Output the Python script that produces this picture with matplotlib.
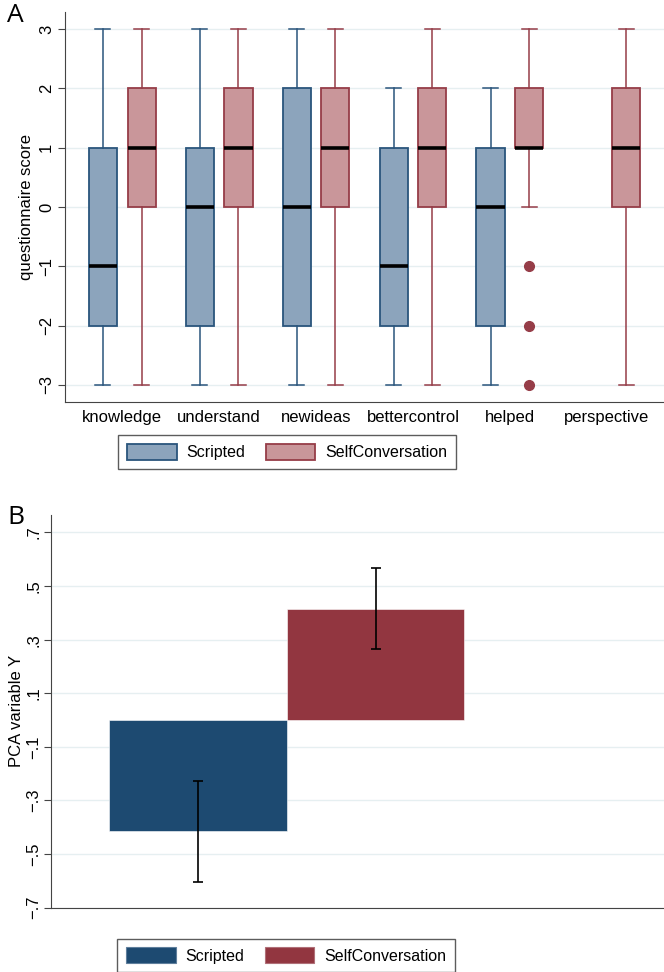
import matplotlib.pyplot as plt
from matplotlib.patches import Patch
from matplotlib.ticker import FixedLocator, FixedFormatter

plt.rcParams['font.family'] = ['Liberation Sans', 'DejaVu Sans']

# panel A: questionnaire items, five-number summaries per group
items = ["knowledge", "understand", "newideas", "bettercontrol", "helped", "perspective"]
# (whislo, q1, med, q3, whishi) ; None = no data
scripted_stats = [(-3, -2, -1, 1, 3), (-3, -2, 0, 1, 3), (-3, -2, 0, 2, 3),
                  (-3, -2, -1, 1, 2), (-3, -2, 0, 1, 2), None]
selfconv_stats = [(-3, 0, 1, 2, 3), (-3, 0, 1, 2, 3), (-3, 0, 1, 2, 3),
                  (-3, 0, 1, 2, 3), (0, 1, 1, 2, 3), (-3, 0, 1, 2, 3)]
selfconv_outliers = [[], [], [], [], [-1, -2, -3], []]
a_ticks = [-3, -2, -1, 0, 1, 2, 3]

# panel B: PCA variable means and CI
groups = ["Scripted", "SelfConversation"]
pca_mean = [-0.415, 0.416]
pca_low = [-0.604, 0.264]
pca_high = [-0.227, 0.567]
b_ticks = [-0.7, -0.5, -0.3, -0.1, 0.1, 0.3, 0.5, 0.7]
b_labels = ["\u2212.7", "\u2212.5", "\u2212.3", "\u2212.1", ".1", ".3", ".5", ".7"]

blue_fill, blue_edge = "#8CA4BC", "#2A557C"
red_fill, red_edge = "#C9969A", "#963D48"
bar_blue, bar_red = "#1D4A71", "#923640"
grid_c = "#E6EFF1"
spine_c = "#444444"

fig = plt.figure(figsize=(6.64, 9.72), dpi=100)


def style_axis(ax, pad=3):
    ax.spines["top"].set_visible(False)
    ax.spines["right"].set_visible(False)
    ax.spines["left"].set_color(spine_c)
    ax.spines["bottom"].set_color(spine_c)
    ax.yaxis.grid(True, color=grid_c, lw=1)
    ax.set_axisbelow(True)
    ax.tick_params(axis="y", direction="out", length=5, color=spine_c, labelsize=12, pad=pad)
    for lab in ax.get_yticklabels():
        lab.set_rotation(90)
        lab.set_va("center")


def add_legend(handles, center_px):
    leg = fig.legend(handles=handles, loc="center",
                     bbox_to_anchor=(center_px[0] / 664, 1 - center_px[1] / 972),
                     ncol=2, fontsize=11.5, frameon=True, fancybox=False, edgecolor="#333333",
                     handlelength=3.1, handleheight=1.15, columnspacing=1.3,
                     handletextpad=0.6, borderpad=0.55, borderaxespad=0)
    leg.get_frame().set_linewidth(1.0)
    return leg


# ---- panel A
axA = fig.add_axes([65 / 664, 1 - 402 / 972, 1 - 65 / 664, (402 - 12) / 972])


def make_stats(vals, fliers=()):
    lo, q1, med, q3, hi = vals
    return dict(whislo=lo, q1=q1, med=med, q3=q3, whishi=hi, fliers=list(fliers))


for fill, edge, stats_list, offs in [(blue_fill, blue_edge, scripted_stats, -0.2),
                                     (red_fill, red_edge, selfconv_stats, 0.2)]:
    stats, pos = [], []
    for i, s in enumerate(stats_list):
        if s is None:
            continue
        fl = selfconv_outliers[i] if fill == red_fill else []
        stats.append(make_stats(s, fl))
        pos.append(i + 1 + offs)
    axA.bxp(stats, positions=pos, widths=0.29, capwidths=0.155, patch_artist=True,
            boxprops=dict(facecolor=fill, edgecolor=edge, lw=1.3),
            whiskerprops=dict(color=edge, lw=1.1),
            capprops=dict(color=edge, lw=1.1),
            medianprops=dict(color="black", lw=2.6, solid_capstyle="butt"),
            flierprops=dict(marker="o", markerfacecolor=red_edge, markeredgecolor=red_edge,
                            markersize=7))

axA.set_xlim(0.41, 6.59)
axA.set_ylim(-3.29, 3.29)
axA.set_yticks(a_ticks)
axA.set_xticks(range(1, len(items) + 1))
axA.set_xticklabels(items, fontsize=12)
axA.tick_params(axis="x", length=0, pad=6)
axA.set_ylabel("questionnaire score", fontsize=12, va="center")
axA.yaxis.set_label_coords((27 - 65) / 599, 0.5)
style_axis(axA)
fig.text(7 / 664, 1 - 16 / 972, "A", fontsize=19, va="center", ha="left",
         family=["Open Sans", "DejaVu Sans"])

add_legend([Patch(facecolor=blue_fill, edgecolor=blue_edge, lw=1.3, label="Scripted"),
            Patch(facecolor=red_fill, edgecolor=red_edge, lw=1.3, label="SelfConversation")],
           (287, 452))

# ---- panel B
axB = fig.add_axes([51 / 664, 1 - 907.7 / 972, 1 - 51 / 664, (907.7 - 515) / 972])
xs = [0, 1]
for x, m, lo, hi, c in zip(xs, pca_mean, pca_low, pca_high, [bar_blue, bar_red]):
    axB.bar(x, m, width=1.0, color=c, edgecolor="#FFFFFF", lw=0.4)
    axB.errorbar(x, m, yerr=[[m - lo], [hi - m]], fmt="none", ecolor="black",
                 elinewidth=1.2, capsize=3.5, capthick=1.2)

axB.set_xlim(-0.828, 2.625)
axB.set_ylim(-0.7, 0.765)
axB.yaxis.set_major_locator(FixedLocator(b_ticks))
axB.yaxis.set_major_formatter(FixedFormatter(b_labels))
axB.set_xticks([])
axB.set_ylabel("PCA variable Y", fontsize=12, va="center")
axB.yaxis.set_label_coords((17 - 51) / 613, 0.5)
style_axis(axB, pad=2)
fig.text(7 / 664, 1 - 517 / 972, "B", fontsize=19, va="center", ha="left",
         family=["Open Sans", "DejaVu Sans"])

add_legend([Patch(facecolor=bar_blue, edgecolor="#5F7F9C", lw=0.8, label=groups[0]),
            Patch(facecolor=bar_red, edgecolor="#B07078", lw=0.8, label=groups[1])],
           (286, 955.5))

fig.savefig("out.png", dpi=100)
